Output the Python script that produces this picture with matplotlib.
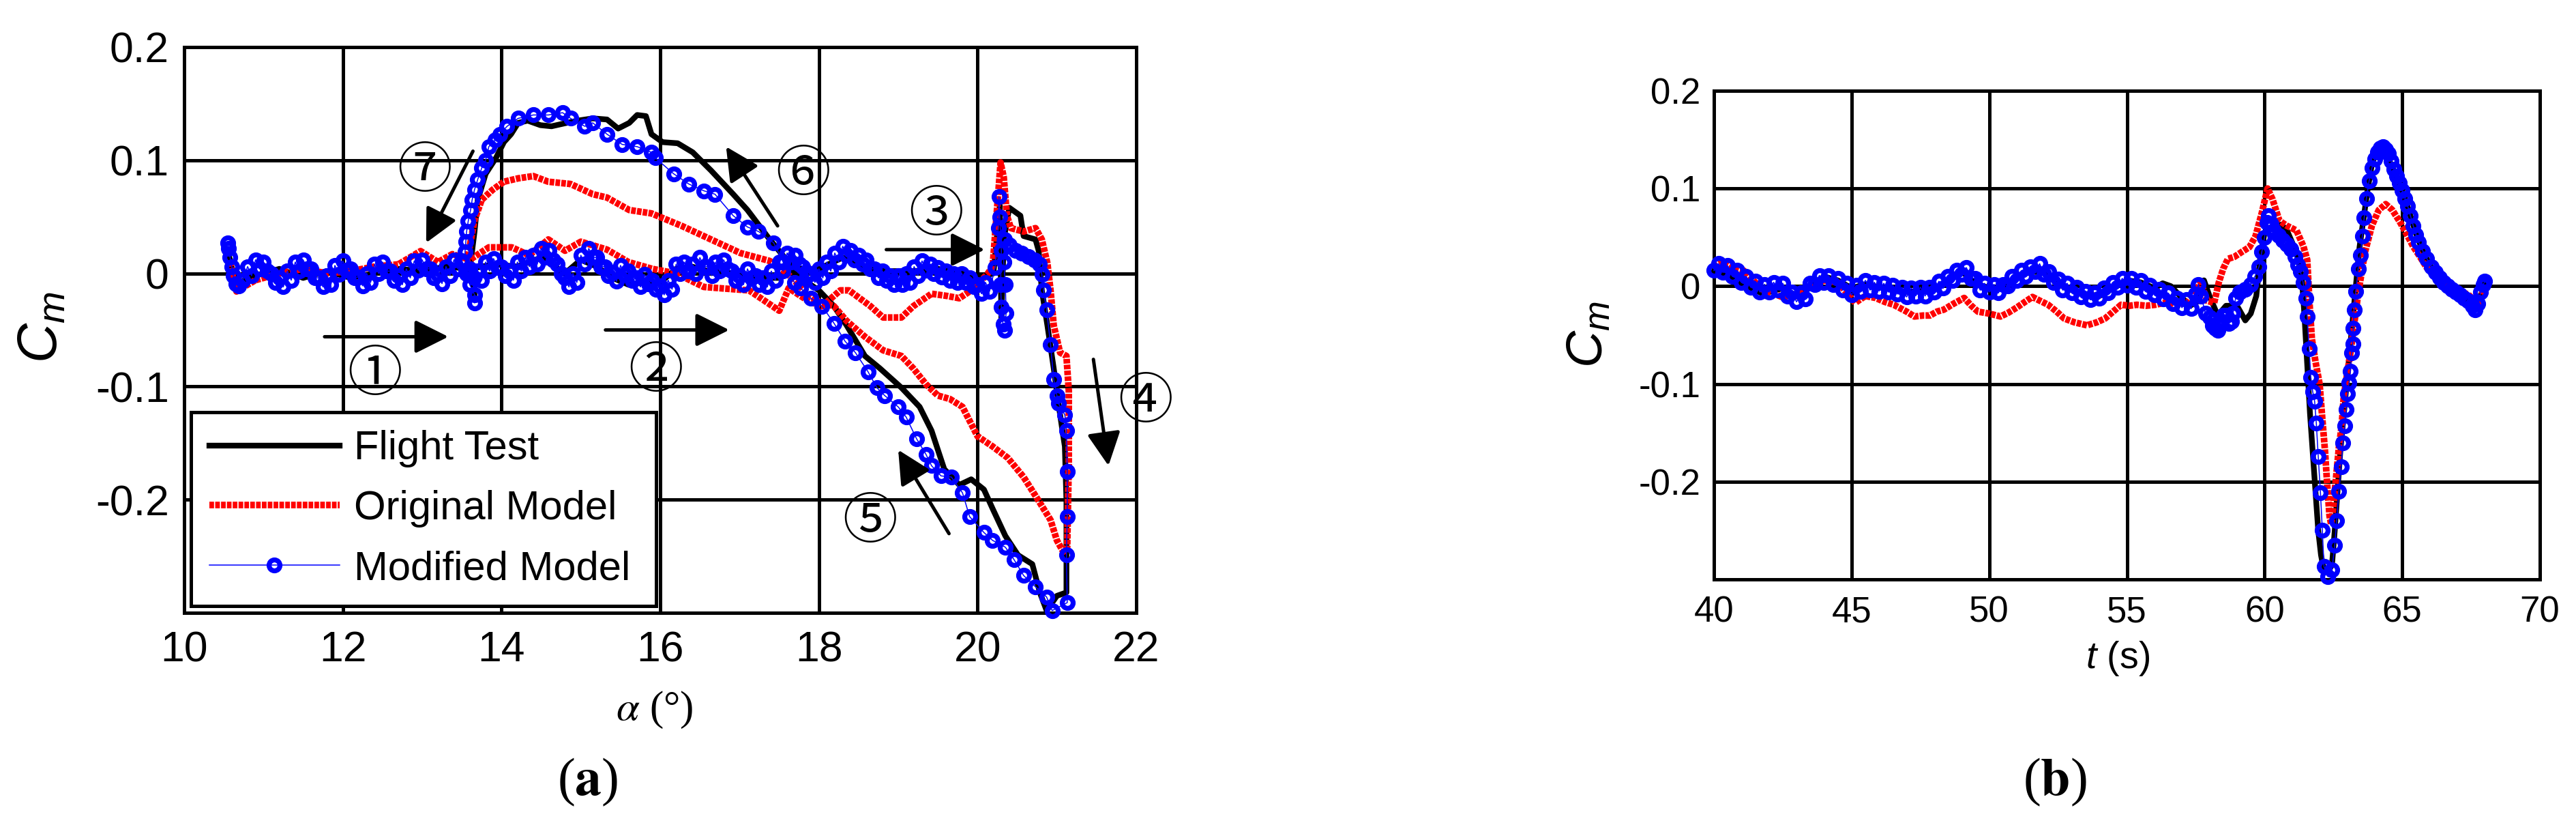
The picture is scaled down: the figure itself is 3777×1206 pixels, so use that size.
import matplotlib
matplotlib.use("Agg")
from matplotlib import pyplot as plt

plt.rcParams['font.family'] = ['Liberation Sans Narrow', 'Liberation Sans', 'DejaVu Sans']
plt.rcParams['mathtext.fontset'] = 'custom'
plt.rcParams['mathtext.it'] = 'Liberation Sans:italic'
plt.rcParams['mathtext.rm'] = 'Liberation Sans'

# ---------------- (a) Cm vs alpha ----------------
alpha_ft_a = [10.55, 10.6, 10.7, 10.9, 11.2, 11.5, 11.8, 12.1, 12.4, 12.7, 13.0, 13.3, 13.6, 13.9,
              14.2, 14.5, 14.8, 15.0, 15.2, 15.4, 15.6, 15.8, 16.0, 16.2, 16.4, 16.6, 16.9, 17.2,
              17.5, 17.7, 18.0, 18.3, 18.6, 18.9, 19.2, 19.5, 19.8, 20.0, 20.2, 20.28, 20.3, 20.33,
              20.4, 20.54, 20.58, 20.73, 20.77, 20.81, 20.88, 20.96, 21.04, 21.1, 21.12, 21.12,
              21.0, 20.87, 20.79, 20.75, 20.69, 20.51, 20.35, 20.19, 20.08, 19.92, 19.77, 19.58,
              19.42, 19.27, 19.04, 18.77, 18.58, 18.35, 18.19, 18.0, 17.77, 17.58, 17.38, 17.1,
              16.92, 16.64, 16.41, 16.22, 16.03, 15.89, 15.82, 15.71, 15.61, 15.47, 15.33, 15.15,
              14.96, 14.82, 14.63, 14.49, 14.33, 14.21, 14.12, 14.03, 13.93, 13.8, 13.7, 13.66,
              13.61, 13.66]
cm_ft_a = [0.02, 0.005, -0.008, -0.002, 0.004, -0.004, 0.002, -0.004, 0.0, 0.004, 0.002, 0.006, 0.004, 0.008,
           0.006, 0.014, 0.0, 0.012, 0.006, -0.004, -0.01, -0.008, -0.008, 0.004, 0.006, 0.002, 0.0, -0.004,
           -0.004, 0.004, 0.004, 0.014, 0.004, 0.002, 0.002, 0.004, 0.0, -0.004, 0.0, 0.06, -0.04, 0.03,
           0.058, 0.051, 0.033, 0.03, 0.02, -0.015, -0.046, -0.084, -0.125, -0.153, -0.201, -0.282,
           -0.285, -0.298, -0.283, -0.273, -0.257, -0.249, -0.232, -0.208, -0.191, -0.182, -0.187, -0.173,
           -0.139, -0.118, -0.101, -0.084, -0.073, -0.046, -0.029, -0.015, -0.004, 0.013, 0.03, 0.056,
           0.070, 0.091, 0.107, 0.115, 0.116, 0.123, 0.139, 0.140, 0.133, 0.128, 0.136, 0.137,
           0.135, 0.133, 0.130, 0.131, 0.135, 0.133, 0.123, 0.116, 0.102, 0.088, 0.065, 0.037,
           0.009, -0.019]

alpha_om_a = [10.58, 10.62, 10.66, 10.75, 10.9, 11.2, 11.5, 11.8, 12.1, 12.4, 12.7, 12.98, 13.2, 13.38,
              13.6, 13.84, 14.13, 14.35, 14.59, 14.8, 15.0, 15.33, 15.6, 15.9, 16.2, 16.55, 16.92, 17.12,
              17.29, 17.5, 17.62, 17.88, 18.04, 18.27, 18.38, 18.65, 18.81, 19.04, 19.19, 19.42, 19.62,
              19.77, 19.92, 20.12, 20.19, 20.29, 20.33, 20.37, 20.42, 20.58, 20.73, 20.81, 20.88, 20.92,
              20.96, 21.04, 21.12, 21.15, 21.15, 21.13, 21.08, 21.0, 20.92, 20.77, 20.58, 20.38, 20.19,
              20.0, 19.81, 19.65, 19.5, 19.35, 19.19, 19.04, 18.81, 18.58, 18.35, 18.19, 18.0, 17.81,
              17.6, 17.38, 17.01, 16.64, 16.27, 15.89, 15.61, 15.33, 15.15, 14.87, 14.59, 14.4, 14.21,
              14.03, 13.89, 13.75, 13.66, 13.61, 13.56]
cm_om_a = [0.01, -0.005, -0.016, -0.012, -0.006, 0.0, 0.004, 0.0, 0.002, 0.006, 0.008, 0.0197, 0.01, 0.017,
           0.012, 0.023, 0.023, 0.016, 0.030, 0.02, 0.028, 0.021, 0.01, 0.004, 0.0, -0.012, -0.014, -0.015,
           -0.023, -0.033, -0.013, -0.025, -0.029, -0.015, -0.015, -0.029, -0.039, -0.039, -0.029, -0.018, -0.02,
           -0.022, -0.015, -0.001, 0.006, 0.098, 0.085, 0.051, 0.040, 0.037, 0.040, 0.030, 0.009, -0.015,
           -0.046, -0.07, -0.073, -0.104, -0.167, -0.242, -0.246, -0.236, -0.218, -0.201, -0.180, -0.163, -0.153,
           -0.144, -0.118, -0.111, -0.108, -0.098, -0.084, -0.073, -0.068, -0.056, -0.042, -0.029, -0.025, -0.015,
           0.0, 0.011, 0.018, 0.030, 0.042, 0.053, 0.056, 0.067, 0.070, 0.079, 0.081, 0.086, 0.084,
           0.081, 0.074, 0.065, 0.047, 0.028, 0.009]

alpha_mm_a = [10.55, 10.56, 10.58, 10.6, 10.62, 10.65, 10.69, 10.74,
              10.80, 10.85, 10.90, 10.95, 11.00, 11.05, 11.10, 11.15, 11.20, 11.25,
              11.30, 11.35, 11.40, 11.45, 11.50, 11.55, 11.60, 11.65, 11.70, 11.75,
              11.80, 11.85, 11.90, 11.95, 12.00, 12.05, 12.10, 12.15, 12.20, 12.25,
              12.30, 12.35, 12.40, 12.45, 12.50, 12.55, 12.60, 12.65, 12.70, 12.75,
              12.80, 12.85, 12.90, 12.95, 13.00, 13.05, 13.10, 13.15, 13.20, 13.25,
              13.30, 13.35, 13.40, 13.45, 13.50, 13.55, 13.60, 13.65, 13.70, 13.75,
              13.80, 13.85, 13.90, 13.95, 14.00, 14.05, 14.10, 14.15, 14.20, 14.25,
              14.30, 14.35, 14.40, 14.45, 14.50, 14.55, 14.60, 14.65, 14.70, 14.75,
              14.80, 14.85, 14.90, 14.95, 15.00, 15.05, 15.10, 15.15, 15.20, 15.25,
              15.30, 15.35, 15.40, 15.45, 15.50, 15.55, 15.60, 15.65, 15.70, 15.75,
              15.80, 15.85, 15.90, 15.95, 16.00, 16.05, 16.10, 16.15, 16.20, 16.25,
              16.30, 16.35, 16.40, 16.45, 16.50, 16.55, 16.60, 16.65, 16.70, 16.75,
              16.80, 16.85, 16.90, 16.95, 17.00, 17.05, 17.10, 17.15, 17.20, 17.25,
              17.30, 17.35, 17.40, 17.45, 17.50, 17.55, 17.60, 17.65, 17.70, 17.75,
              17.80, 17.85, 17.90, 17.95, 18.00, 18.05, 18.10, 18.15, 18.20, 18.25,
              18.30, 18.35, 18.40, 18.45, 18.50, 18.55, 18.60, 18.65, 18.70, 18.75,
              18.80, 18.85, 18.90, 18.95, 19.00, 19.05, 19.10, 19.15, 19.20, 19.25,
              19.30, 19.35, 19.40, 19.45, 19.50, 19.55, 19.60, 19.65, 19.70, 19.75,
              19.80, 19.85, 19.90, 19.95, 20.00, 20.05, 20.10, 20.15,
              20.22, 20.26, 20.27, 20.28, 20.3, 20.29, 20.3, 20.32, 20.34, 20.36, 20.35, 20.33, 20.34,
              20.4, 20.48, 20.56, 20.64, 20.72, 20.78,
              20.81, 20.83, 20.87, 20.92, 20.96, 21.0, 21.02, 21.1, 21.12, 21.13, 21.13, 21.12, 21.13,
              20.94, 20.87, 20.73, 20.58, 20.46, 20.35, 20.19, 20.08, 19.9, 19.81, 19.67, 19.54, 19.42,
              19.35, 19.23, 19.1, 19.0, 18.83, 18.73, 18.62, 18.46, 18.33, 18.19, 18.04, 17.9, 17.77, 17.69,
              17.55, 17.43, 17.24, 17.1, 16.92, 16.69, 16.55, 16.36, 16.17, 15.94, 15.89, 15.71, 15.52,
              15.33, 15.15, 15.05, 14.87, 14.77, 14.59, 14.4, 14.21, 14.07, 13.98, 13.92, 13.84, 13.8,
              13.75, 13.7, 13.66, 13.63, 13.61, 13.58, 13.56, 13.55, 13.54, 13.56, 13.6, 13.66, 13.66]
cm_mm_a = [0.027, 0.022, 0.014, 0.006, -0.002, -0.009, -0.011, -0.006,
           0.006, -0.002, 0.012, 0.004, 0.010, 0.002, 0.0, -0.008, -0.004, -0.012,
           0.002, -0.006, 0.010, 0.002, 0.012, 0.004, 0.004, -0.004, -0.004, -0.012,
           -0.002, -0.010, 0.007, -0.001, 0.011, 0.003, 0.004, -0.004, -0.003, -0.011,
           0.0, -0.008, 0.008, 0.0, 0.010, 0.002, 0.002, -0.006, -0.002, -0.010,
           0.004, -0.004, 0.011, 0.003, 0.012, 0.004, 0.004, -0.004, -0.001, -0.009,
           0.006, -0.002, 0.012, 0.004, 0.011, 0.003, 0.004, -0.004, 0.002, -0.006,
           0.010, 0.002, 0.013, 0.005, 0.006, -0.002, 0.002, -0.006, 0.010, 0.002,
           0.014, 0.006, 0.016, 0.008, 0.022, 0.014, 0.020, 0.012, 0.008, 0.0,
           -0.004, -0.012, 0.0, -0.008, 0.016, 0.008, 0.022, 0.014, 0.014, 0.006,
           0.006, -0.002, 0.001, -0.007, 0.007, -0.001, 0.002, -0.006, -0.004, -0.012,
           -0.001, -0.009, -0.006, -0.014, -0.011, -0.019, -0.006, -0.014, 0.008, 0.0,
           0.010, 0.002, 0.008, 0.0, 0.014, 0.006, 0.006, -0.002, 0.010, 0.002,
           0.012, 0.004, 0.002, -0.006, -0.002, -0.010, 0.004, -0.004, -0.002, -0.010,
           -0.004, -0.012, 0.002, -0.006, 0.010, 0.002, 0.018, 0.010, 0.016, 0.008,
           0.006, -0.002, 0.0, -0.008, 0.004, -0.004, 0.010, 0.002, 0.018, 0.010,
           0.024, 0.016, 0.020, 0.012, 0.016, 0.008, 0.012, 0.004, 0.004, -0.004,
           0.002, -0.006, -0.002, -0.010, -0.002, -0.010, 0.0, -0.008, 0.006, -0.002,
           0.011, 0.003, 0.008, 0.0, 0.005, -0.003, 0.002, -0.006, 0.0, -0.008,
           0.0, -0.008, -0.004, -0.012, -0.010, -0.018, -0.008, -0.016,
           0.005, 0.04, 0.068, 0.05, 0.02, -0.01, -0.03, -0.045, -0.05, -0.035, -0.01, 0.01, 0.03,
           0.025, 0.02, 0.018, 0.015, 0.012, 0.008,
           -0.001, -0.015, -0.032, -0.063, -0.094, -0.108, -0.115, -0.125, -0.139, -0.175, -0.215, -0.249, -0.291,
           -0.298, -0.286, -0.277, -0.267, -0.253, -0.242, -0.236, -0.229, -0.215, -0.194, -0.180, -0.179, -0.170,
           -0.160, -0.146, -0.127, -0.118, -0.108, -0.101, -0.087, -0.070, -0.060, -0.044, -0.029, -0.022, -0.013, -0.008,
           0.01, 0.027, 0.037, 0.041, 0.051, 0.07, 0.073, 0.079, 0.088, 0.102, 0.107, 0.112, 0.114,
           0.123, 0.133, 0.130, 0.137, 0.142, 0.140, 0.140, 0.137, 0.130, 0.123, 0.118, 0.112, 0.1,
           0.093, 0.083, 0.074, 0.065, 0.056, 0.046, 0.037, 0.028, 0.019, 0.0, -0.01, -0.019, -0.026]

# ---------------- (b) Cm vs time ----------------
t_ft = [40.0, 40.5, 41.0, 41.5, 41.8, 42.0, 42.5, 43.0, 43.5, 44.0, 44.5, 45.0, 45.5, 46.0, 47.0, 48.0,
        48.5, 49.0, 49.5, 50.0, 50.5, 51.0, 51.5, 52.0, 52.5, 53.0, 53.5, 54.0, 54.5, 55.0, 55.5, 56.0,
        56.3, 56.6, 57.0, 57.3, 57.6, 57.8, 58.0, 58.3, 58.6, 59.0, 59.3, 59.5, 59.7, 59.85, 60.0, 60.2,
        60.4, 60.6, 60.8, 61.0, 61.2, 61.35, 61.45, 61.55, 61.65, 61.75, 61.85, 61.95, 62.05, 62.15,
        62.3, 62.45, 62.55, 62.65, 62.75, 62.85, 62.95, 63.05, 63.15, 63.25, 63.35, 63.45, 63.6, 63.75,
        63.9, 64.05, 64.2, 64.35, 64.5, 64.7, 64.9, 65.1, 65.3, 65.5, 65.75, 66.0, 66.3, 66.6, 66.9,
        67.2, 67.5, 67.7, 67.85, 68.0]
cm_ft_b = [0.015, 0.012, 0.003, -0.004, -0.008, -0.006, -0.002, -0.01, 0.0, 0.01, 0.006, -0.002, 0.002, -0.001, -0.006, -0.003,
           0.005, 0.015, 0.003, -0.002, -0.002, 0.009, 0.015, 0.014, 0.002, -0.004, -0.008, -0.01, -0.002, 0.006, 0.004, -0.002,
           0.003, 0.0, -0.012, -0.02, -0.015, 0.006, -0.01, -0.03, -0.02, -0.02, -0.035, -0.028, -0.01, 0.03, 0.055, 0.06,
           0.06, 0.063, 0.058, 0.045, 0.03, 0.01, -0.03, -0.08, -0.13, -0.17, -0.21, -0.25, -0.275, -0.29,
           -0.293, -0.285, -0.25, -0.21, -0.17, -0.14, -0.11, -0.08, -0.05, -0.02, 0.01, 0.04, 0.07, 0.1,
           0.125, 0.138, 0.14, 0.138, 0.13, 0.118, 0.105, 0.09, 0.072, 0.054, 0.036, 0.022, 0.01, 0.0, -0.006,
           -0.012, -0.018, -0.022, -0.01, 0.003]

t_om = [40.0, 40.3, 40.6, 41.08, 41.5, 41.74, 42.2, 42.57, 43.0, 43.5, 44.0, 44.5, 45.13, 45.5, 45.87, 46.2,
        46.53, 47.0, 47.28, 47.6, 47.85, 48.1, 48.35, 48.7, 49.09, 49.35, 49.59, 50.0, 50.41, 50.7, 50.99,
        51.3, 51.57, 51.85, 52.14, 52.45, 52.72, 53.1, 53.55, 53.9, 54.21, 54.5, 54.79, 55.1, 55.36, 55.7,
        56.03, 56.36, 56.8, 57.2, 57.5, 57.68, 57.92, 58.17, 58.34, 58.5, 58.67, 58.9, 59.17, 59.45, 59.67,
        59.9, 60.11, 60.29, 60.54, 60.8, 61.16, 61.41, 61.55, 61.64, 61.72, 61.85, 62.0, 62.1, 62.2, 62.28,
        62.36, 62.42, 62.5, 62.6, 62.7, 62.8, 62.88, 63.0, 63.13, 63.25, 63.4, 63.55, 63.65, 63.9, 64.15,
        64.4, 64.64, 64.89, 65.15, 65.39, 65.65, 65.89, 66.25, 66.64, 67.0, 67.38, 67.6, 67.76, 67.9, 68.0]
cm_om_b = [0.02, 0.025, 0.02, 0.016, 0.004, -0.003, -0.008, -0.012, -0.01, 0.0, 0.006, 0.004, -0.017, -0.01, -0.012, -0.016,
           -0.019, -0.026, -0.031, -0.03, -0.030, -0.026, -0.024, -0.018, -0.012, -0.02, -0.026, -0.028, -0.031, -0.027, -0.022,
           -0.016, -0.011, -0.015, -0.019, -0.026, -0.033, -0.037, -0.04, -0.037, -0.033, -0.026, -0.019, -0.02, -0.019, -0.02,
           -0.019, -0.017, -0.018, -0.017, -0.005, 0.004, -0.015, -0.017, 0.004, 0.018, 0.028, 0.03, 0.035, 0.04, 0.051,
           0.075, 0.1, 0.089, 0.067, 0.062, 0.057, 0.041, 0.027, -0.02, -0.054, -0.077, -0.1, -0.136, -0.17, -0.205,
           -0.235, -0.244, -0.225, -0.195, -0.165, -0.143, -0.112, -0.09, -0.066, -0.04, -0.008, 0.018, 0.035, 0.062, 0.078,
           0.084, 0.078, 0.067, 0.054, 0.041, 0.03, 0.019, 0.008, -0.002, -0.006, -0.008, -0.014, -0.018, -0.008, 0.0]

t_mm = [40.00, 40.17, 40.33, 40.50, 40.67, 40.83, 41.00, 41.17, 41.33, 41.50, 41.67, 41.83,
        42.00, 42.17, 42.33, 42.50, 42.67, 42.83, 43.00, 43.17, 43.33, 43.50, 43.67, 43.83,
        44.00, 44.17, 44.33, 44.50, 44.67, 44.83, 45.00, 45.17, 45.33, 45.50, 45.67, 45.83,
        46.00, 46.17, 46.33, 46.50, 46.67, 46.83, 47.00, 47.17, 47.33, 47.50, 47.67, 47.83,
        48.00, 48.17, 48.33, 48.50, 48.67, 48.83, 49.00, 49.17, 49.33, 49.50, 49.67, 49.83,
        50.00, 50.17, 50.33, 50.50, 50.67, 50.83, 51.00, 51.17, 51.33, 51.50, 51.67, 51.83,
        52.00, 52.17, 52.33, 52.50, 52.67, 52.83, 53.00, 53.17, 53.33, 53.50, 53.67, 53.83,
        54.00, 54.17, 54.33, 54.50, 54.67, 54.83, 55.00, 55.17, 55.33, 55.50, 55.67, 55.83,
        56.00, 56.17, 56.33, 56.50, 56.67, 56.83, 57.00, 57.17, 57.33, 57.50,
        57.6, 57.7, 57.85, 58.0, 58.1, 58.2, 58.3, 58.4, 58.5, 58.6, 58.7, 58.8, 58.85, 58.95,
        59.1, 59.3, 59.5, 59.65, 59.8, 59.9, 60.0, 60.08, 60.15, 60.25, 60.35, 60.5, 60.65, 60.8,
        60.95, 61.1, 61.2, 61.3, 61.4, 61.5, 61.55, 61.62, 61.68, 61.75, 61.82, 61.88, 61.95, 62.03,
        62.1, 62.16, 62.3, 62.45, 62.55, 62.62, 62.7, 62.78, 62.85, 62.92, 62.97, 63.02, 63.07, 63.12,
        63.16, 63.2, 63.22, 63.25, 63.32, 63.4, 63.48, 63.55, 63.62, 63.7, 63.8, 63.9, 64.0, 64.1,
        64.2, 64.3, 64.4, 64.5, 64.6, 64.7, 64.8, 64.9, 65.0, 65.1, 65.2, 65.3, 65.4, 65.5, 65.6,
        65.75, 65.9, 66.05, 66.2, 66.35, 66.5, 66.65, 66.8, 66.95, 67.1, 67.25, 67.4, 67.55, 67.65,
        67.75, 67.85, 67.95, 68.0]
cm_mm_b = [0.016, 0.023, 0.014, 0.021, 0.01, 0.016, 0.004, 0.01, -0.001, 0.005, -0.006, 0.002,
           -0.006, 0.004, -0.004, 0.003, -0.01, -0.006, -0.016, -0.007, -0.013, 0.003, 0.002, 0.011,
           0.004, 0.011, 0.002, 0.008, -0.004, 0.003, -0.009, 0.001, -0.005, 0.006, -0.004, 0.004,
           -0.005, 0.003, -0.006, 0.001, -0.008, -0.001, -0.011, -0.002, -0.01, -0.001, -0.01, -0.001,
           -0.006, 0.005, -0.002, 0.01, 0.006, 0.016, 0.012, 0.019, 0.008, 0.008, -0.004, 0.003,
           -0.006, 0.002, -0.007, 0.002, 0.0, 0.01, 0.006, 0.016, 0.01, 0.02, 0.015, 0.023,
           0.012, 0.015, 0.004, 0.007, -0.004, 0.003, -0.007, -0.001, -0.011, -0.005, -0.014, -0.007,
           -0.012, -0.002, -0.007, 0.004, -0.001, 0.008, 0.001, 0.008, -0.001, 0.006, -0.005, 0.001,
           -0.009, -0.003, -0.013, -0.007, -0.018, -0.012, -0.022, -0.014, -0.023, -0.008,
           0.002, -0.01, -0.028, -0.032, -0.04, -0.043, -0.045, -0.035, -0.03, -0.03, -0.038, -0.036, -0.028, -0.012,
           -0.006, -0.003, 0.002, 0.01, 0.02, 0.035, 0.05, 0.065, 0.072, 0.064, 0.057, 0.052, 0.047, 0.043,
           0.038, 0.03, 0.022, 0.015, 0.004, -0.012, -0.031, -0.064, -0.093, -0.108, -0.118, -0.14, -0.174, -0.211,
           -0.25, -0.287, -0.297, -0.29, -0.265, -0.24, -0.21, -0.185, -0.16, -0.143, -0.126, -0.11, -0.099, -0.087,
           -0.068, -0.059, -0.043, -0.024, -0.005, 0.018, 0.032, 0.051, 0.07, 0.09, 0.108, 0.121, 0.13, 0.137,
           0.141, 0.143, 0.14, 0.136, 0.128, 0.12, 0.113, 0.106, 0.098, 0.09, 0.082, 0.072, 0.062, 0.053, 0.045,
           0.036, 0.028, 0.02, 0.014, 0.009, 0.004, 0.0, -0.003, -0.006, -0.009, -0.012, -0.015, -0.02, -0.024,
           -0.018, -0.006, 0.002, 0.005]

labels = ['Flight Test', 'Original Model', 'Modified Model']
y_ticks = [-0.2, -0.1, 0.0, 0.1, 0.2]
y_ticklabels = ['-0.2', '-0.1', '0', '0.1', '0.2']
xa_ticks = [10, 12, 14, 16, 18, 20, 22]
xb_ticks = [40, 45, 50, 55, 60, 65, 70]

# flight phase annotations: label position, arrow tail, arrow head
phase_marks = ['\u2460', '\u2461', '\u2462', '\u2463', '\u2464', '\u2465', '\u2466']
phase_pos = [(12.4, -0.09), (15.94, -0.087), (19.48, 0.051), (22.12, -0.114), (18.64, -0.22), (17.8, 0.087), (13.03, 0.09)]
arrow_tail = [(11.77, -0.056), (15.31, -0.05), (18.85, 0.021), (21.46, -0.076), (19.64, -0.23), (17.48, 0.042), (13.64, 0.108)]
arrow_head = [(13.33, -0.056), (16.87, -0.05), (20.09, 0.021), (21.65, -0.17), (19.0, -0.156), (16.83, 0.112), (13.05, 0.027)]

FW, FH = 3777, 1206
fig = plt.figure(figsize=(FW / 100, FH / 100), dpi=100)


def box(x0, y0, x1, y1):
    return [x0 / FW, 1 - y1 / FH, (x1 - x0) / FW, (y1 - y0) / FH]


ax1 = fig.add_axes(box(270, 69, 1666, 898))
ax2 = fig.add_axes(box(2513, 133, 3724, 849))

ft_style = dict(color='k', lw=6.0, solid_joinstyle='round', zorder=3, clip_on=False)
om_style = dict(color='#ff0000', lw=7.0, linestyle=(0, (0.7, 0.18)), dash_capstyle='butt', zorder=4, clip_on=False)
mm_style = dict(color='#0000ff', lw=1.1, marker='o', ms=11.5, mew=5.2, mfc='none', mec='#0000ff', zorder=5, clip_on=False)

l1, = ax1.plot(alpha_ft_a, cm_ft_a, label=labels[0], **ft_style)
l2, = ax1.plot(alpha_om_a, cm_om_a, label=labels[1], **om_style)
l3, = ax1.plot(alpha_mm_a, cm_mm_a, label=labels[2], **mm_style)

ax2.plot(t_ft, cm_ft_b, **ft_style)
ax2.plot(t_om, cm_om_b, **om_style)
ax2.plot(t_mm, cm_mm_b, **mm_style)


def style_axes(ax, xticks, fs, xpad, ypad):
    ax.set_xticks(xticks)
    ax.set_xticklabels([str(v) for v in xticks])
    ax.set_yticks(y_ticks)
    ax.set_yticklabels(y_ticklabels)
    ax.set_ylim(-0.3, 0.2)
    ax.set_xlim(xticks[0], xticks[-1])
    ax.grid(True, color='k', lw=3.6)
    ax.set_axisbelow(True)
    ax.tick_params(axis='both', length=0, labelsize=fs)
    ax.tick_params(axis='x', pad=xpad)
    ax.tick_params(axis='y', pad=ypad)
    for s in ax.spines.values():
        s.set_linewidth(3.6)
        s.set_color('k')


style_axes(ax1, xa_ticks, 45, 18, 16)
style_axes(ax2, xb_ticks, 38, 17, 14)

for mark, pos, tail, head in zip(phase_marks, phase_pos, arrow_tail, arrow_head):
    ax1.text(pos[0], pos[1], mark, family=['Noto Sans CJK SC', 'DejaVu Sans'], fontsize=58,
             ha='center', va='center', zorder=2, clip_on=False)
    ax1.annotate('', xy=head, xytext=tail,
                 arrowprops=dict(arrowstyle='-|>,head_length=1.5,head_width=0.75', mutation_scale=20,
                                 lw=3.6, color='k', shrinkA=0, shrinkB=0),
                 zorder=6, annotation_clip=False)

leg = ax1.legend(handles=[l1, l2, l3], loc='lower left', bbox_to_anchor=(0.007, 0.012, 0.489, 0.35),
                 mode='expand', fontsize=43, numpoints=1, handlelength=3.2, handletextpad=0.35,
                 borderpad=0.45, labelspacing=0.55, borderaxespad=0, fancybox=False, framealpha=1,
                 edgecolor='k')
leg.get_frame().set_linewidth(3.6)

# axis labels and panel captions
fig.text(62 / FW, 1 - 480 / FH, '$C_m$', fontsize=58, rotation=90, ha='center', va='center')
fig.text(2330 / FW, 1 - 490 / FH, '$C_m$', fontsize=54, rotation=90, ha='center', va='center')
fig.text(960 / FW, 1 - 1040 / FH, r'$\alpha$ (°)', family='Liberation Serif', math_fontfamily='stix',
         fontsize=44, ha='center', va='center')
fig.text(3105 / FW, 1 - 965 / FH, '$t$ (s)', fontsize=40, ha='center', va='center')
fig.text(862 / FW, 1 - 1146 / FH, r'($\mathbf{a}$)', family='Liberation Serif', math_fontfamily='stix',
         fontsize=56, ha='center', va='center')
fig.text(3013 / FW, 1 - 1146 / FH, r'($\mathbf{b}$)', family='Liberation Serif', math_fontfamily='stix',
         fontsize=56, ha='center', va='center')

fig.savefig('out.png', dpi=100, facecolor='white')
